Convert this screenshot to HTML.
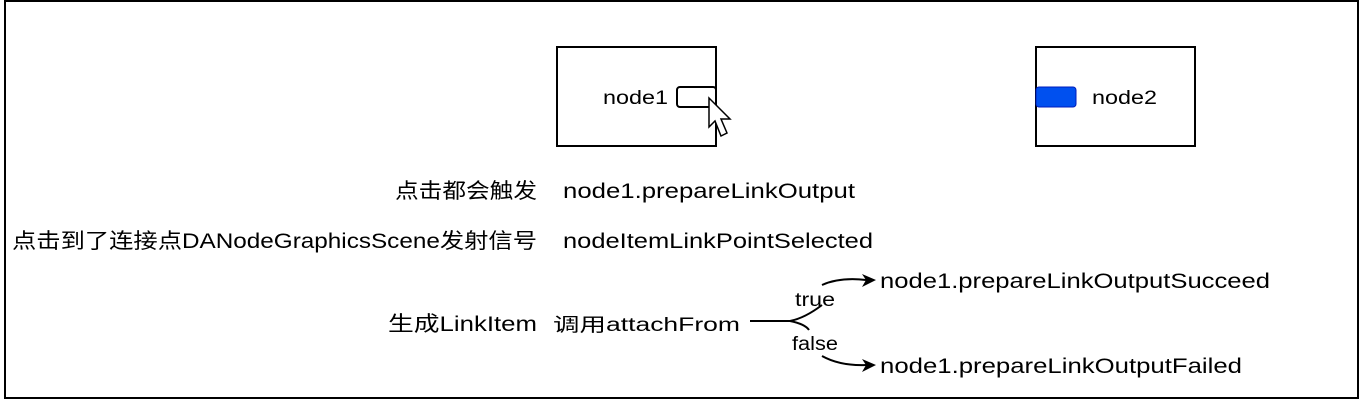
<!DOCTYPE html>
<html><head><meta charset="utf-8"><style>
body{margin:0;width:1360px;height:400px;background:#fff;overflow:hidden}
svg text{font-family:"Liberation Sans","Noto Sans CJK SC",sans-serif;fill:#000}
</style></head><body>
<svg width="1360" height="400" viewBox="0 0 1360 400" xmlns="http://www.w3.org/2000/svg">
<rect x="5" y="1" width="1353" height="397" fill="none" stroke="#000" stroke-width="2"/>
<rect x="557" y="47" width="159" height="99" fill="#fff" stroke="#000" stroke-width="2"/>
<text x="603" y="104" font-size="19" textLength="65" lengthAdjust="spacingAndGlyphs">node1</text>
<rect x="677" y="87" width="39" height="20" rx="3" fill="#fff" stroke="#000" stroke-width="2"/>
<path d="M709,98 L709,127 L715,121 L721,136 L727,133 L721,119 L730,119 Z" fill="#fff" stroke="#000" stroke-width="1.5"/>
<rect x="1036" y="47" width="159" height="99" fill="#fff" stroke="#000" stroke-width="2"/>
<rect x="1036" y="87" width="40" height="20" rx="3" fill="#0050ef" stroke="#001dbc" stroke-width="1"/>
<text x="1092" y="104" font-size="19" textLength="65" lengthAdjust="spacingAndGlyphs">node2</text>
<text x="395" y="198" font-size="21" textLength="142" lengthAdjust="spacingAndGlyphs">点击都会触发</text>
<text x="563" y="198" font-size="21" textLength="292" lengthAdjust="spacingAndGlyphs">node1.prepareLinkOutput</text>
<text x="12" y="248" font-size="21" textLength="525" lengthAdjust="spacingAndGlyphs">点击到了连接点DANodeGraphicsScene发射信号</text>
<text x="563" y="248" font-size="21" textLength="310" lengthAdjust="spacingAndGlyphs">nodeItemLinkPointSelected</text>
<text x="388" y="331" font-size="21" textLength="149" lengthAdjust="spacingAndGlyphs">生成LinkItem</text>
<text x="553" y="331" font-size="19" textLength="187" lengthAdjust="spacingAndGlyphs">调用attachFrom</text>
<path d="M750,321 L790,321 Q805,318 822,305" fill="none" stroke="#000" stroke-width="2"/>
<path d="M790,321 Q805,324 809,330" fill="none" stroke="#000" stroke-width="2"/>
<path d="M822,285 Q840,277 866,280" fill="none" stroke="#000" stroke-width="2"/>
<path d="M876,280 L862,274 L866,280 L862,287 Z" fill="#000"/>
<path d="M822,356 Q840,366 866,365" fill="none" stroke="#000" stroke-width="2"/>
<path d="M876,365 L862,359 L866,365 L862,372 Z" fill="#000"/>
<text x="795" y="306" font-size="19" textLength="40" lengthAdjust="spacingAndGlyphs">true</text>
<text x="792" y="350" font-size="19" textLength="46" lengthAdjust="spacingAndGlyphs">false</text>
<text x="880" y="288" font-size="21" textLength="390" lengthAdjust="spacingAndGlyphs">node1.prepareLinkOutputSucceed</text>
<text x="880" y="373" font-size="21" textLength="362" lengthAdjust="spacingAndGlyphs">node1.prepareLinkOutputFailed</text>
</svg>
</body></html>
